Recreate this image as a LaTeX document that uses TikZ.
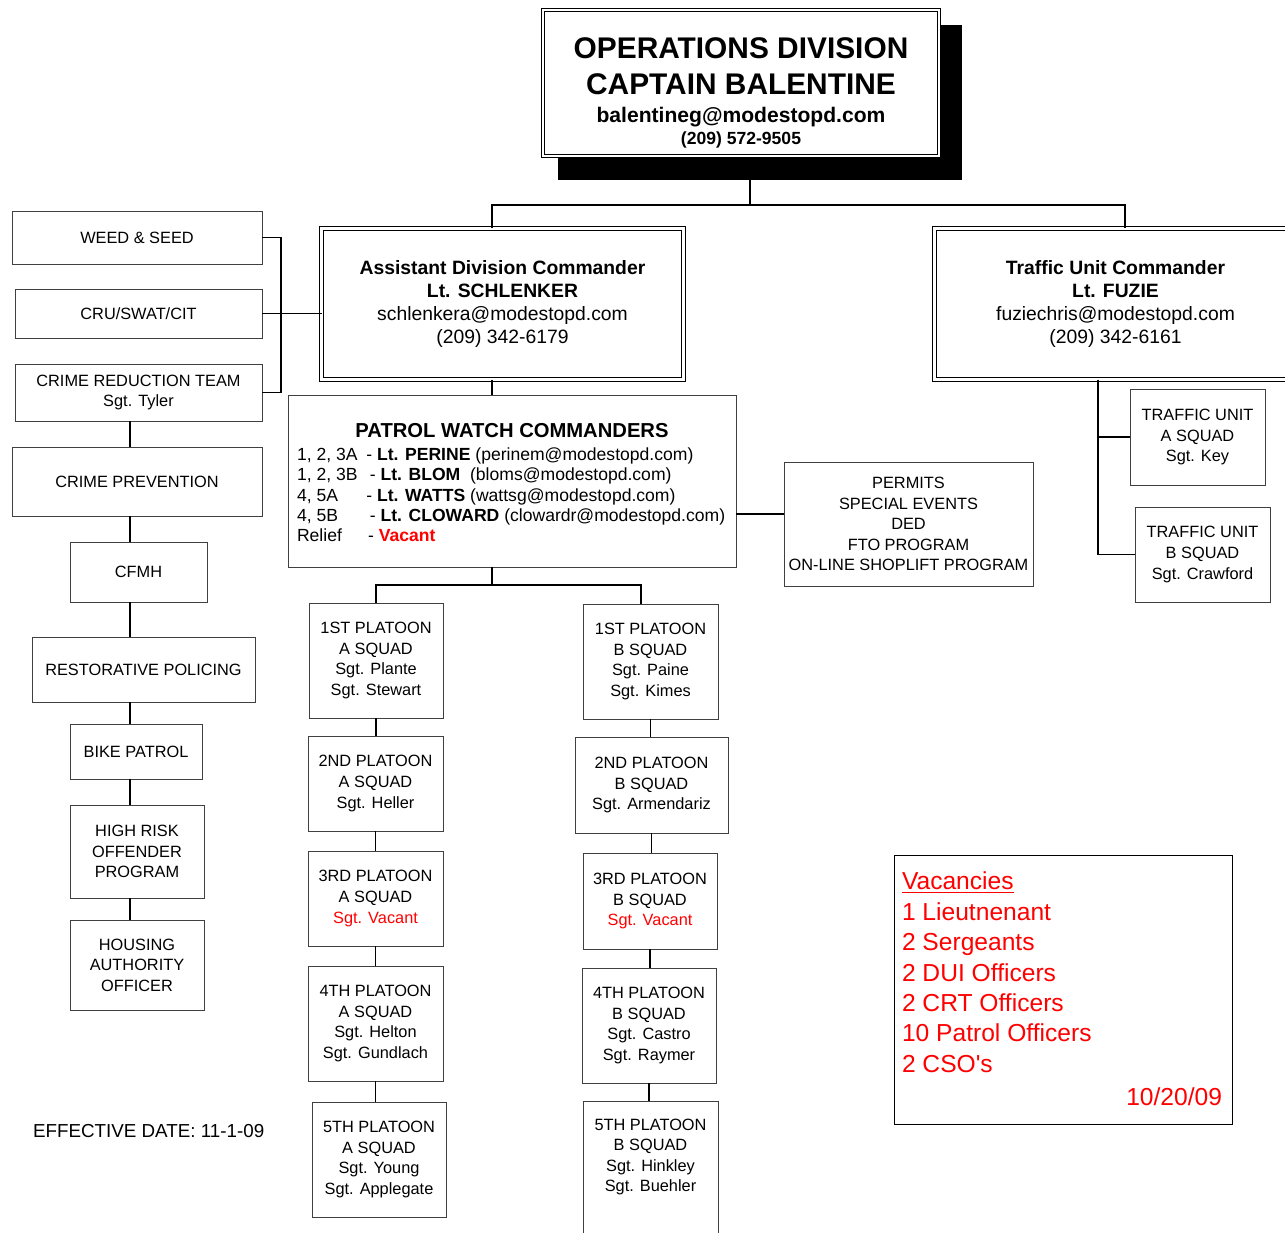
\documentclass[tikz,border=0pt]{standalone}
\usepackage{fontspec}
\setmainfont{Liberation Sans}
\usetikzlibrary{positioning}

\begin{document}
\begin{tikzpicture}[
    x=0.02cm, y=-0.02cm,
    box/.style={
        draw=black!75,
        line width=0.5pt,
        rectangle,
        inner sep=0pt,
        outer sep=0pt,
        align=center,
        font=\fontsize{9.3}{11.7}\selectfont
    },
    sz/.style 2 args={minimum width=#1*0.02cm, minimum height=#2*0.02cm},
    dblbox/.style={box, draw=black, double, double distance=1.4pt, line width=0.7pt, fill=white},
    cmdbox/.style={dblbox, font=\fontsize{11}{13.1}\selectfont},
    txt/.style={inner sep=0pt, outer sep=0pt, align=center},
    link/.style={line width=1pt, black}
]
\useasboundingbox[fill=white] (0,0) rectangle (1285,1233);

% Division head
\node[fill=black, inner sep=0pt, sz={404}{155}] (hdrshadow) at (760,102.5) {};
\node[dblbox, sz={396}{146}] (hdr) at (741,83) {};
\node[txt, font=\bfseries\fontsize{17}{20.4}\selectfont] (hdrtxt) at (741,93)
    {OPERATIONS DIVISION\\CAPTAIN BALENTINE\\[-4.6pt]
     {\fontsize{12}{14}\selectfont balentineg@modestopd.com}\\[-7.5pt]
     {\fontsize{10}{12}\selectfont (209) 572-9505}};

% Commanders
\node[cmdbox, sz={362}{151}] (asst) at (502.5,304)
    {\textbf{Assistant Division Commander}\\\textbf{Lt. SCHLENKER}\\schlenkera@modestopd.com\\(209) 342-6179};
\node[cmdbox, sz={362}{151}] (traffic) at (1115.5,304)
    {\textbf{Traffic Unit Commander}\\\textbf{Lt. FUZIE}\\fuziechris@modestopd.com\\(209) 342-6161};

% Left column
\node[box, sz={250}{53}] (weed) at (137,237.5) {WEED \& SEED};
\node[box, sz={247}{49}] (cru) at (138.5,313.5) {CRU/SWAT/CIT};
\node[box, sz={247}{57}] (crt) at (138.5,392.5) {CRIME REDUCTION TEAM\\Sgt. Tyler};
\node[box, sz={250}{69}] (cprev) at (137,481.5) {CRIME PREVENTION};
\node[box, sz={137}{60}] (cfmh) at (138.5,572) {CFMH};
\node[box, sz={223}{65}] (rest) at (143.5,669.5) {RESTORATIVE POLICING};
\node[box, sz={132}{55}] (bike) at (136,751.5) {BIKE PATROL};
\node[box, sz={134}{93}] (hrisk) at (137,851.5) {HIGH RISK\\OFFENDER\\PROGRAM};
\node[box, sz={134}{90}] (housing) at (137,965) {HOUSING\\AUTHORITY\\OFFICER};

% Patrol watch commanders
\node[box, sz={448}{172}] (pwc) at (512,481) {};
\node[txt, font=\bfseries\fontsize{11.5}{13}\selectfont] (pwctitle) at (512,431) {PATROL WATCH COMMANDERS};
\node[txt, align=left, anchor=north west, font=\fontsize{10}{11.5}\selectfont] (pwclines) at (297,448)
    {\makebox[39.5pt][l]{1, 2, 3A}- \textbf{Lt. PERINE} (perinem@modestopd.com)\\
     \makebox[41.5pt][l]{1, 2, 3B}- \textbf{Lt. BLOM} \ (bloms@modestopd.com)\\
     \makebox[39.5pt][l]{4, 5A}- \textbf{Lt. WATTS} (wattsg@modestopd.com)\\
     \makebox[41.5pt][l]{4, 5B}- \textbf{Lt. CLOWARD} (clowardr@modestopd.com)\\
     \makebox[40.5pt][l]{Relief}- \textcolor{red}{\textbf{Vacant}}};
\node[box, sz={249}{124}] (permits) at (908.5,524)
    {PERMITS\\SPECIAL EVENTS\\DED\\FTO PROGRAM\\ON-LINE SHOPLIFT PROGRAM};

% Traffic squads
\node[box, sz={135}{96}] (tua) at (1197.5,437) {TRAFFIC UNIT\\A SQUAD\\Sgt. Key};
\node[box, sz={135}{95}] (tub) at (1202.5,554.5) {TRAFFIC UNIT\\B SQUAD\\Sgt. Crawford};

% A squads
\node[box, sz={134}{115}] (p1a) at (376,660.5) {1ST PLATOON\\A SQUAD\\Sgt. Plante\\Sgt. Stewart};
\node[box, sz={135}{95}] (p2a) at (375.5,783.5) {2ND PLATOON\\A SQUAD\\Sgt. Heller};
\node[box, sz={135}{95}] (p3a) at (375.5,898.5) {3RD PLATOON\\A SQUAD\\\textcolor{red}{Sgt. Vacant}};
\node[box, sz={135}{115}] (p4a) at (375.5,1023.5) {4TH PLATOON\\A SQUAD\\Sgt. Helton\\Sgt. Gundlach};
\node[box, sz={134}{115}] (p5a) at (379,1159.5) {5TH PLATOON\\A SQUAD\\Sgt. Young\\Sgt. Applegate};

% B squads
\node[box, sz={135}{115}] (p1b) at (650.5,661.5) {1ST PLATOON\\B SQUAD\\Sgt. Paine\\Sgt. Kimes};
\node[box, sz={153}{96}] (p2b) at (651.5,785) {2ND PLATOON\\B SQUAD\\Sgt. Armendariz};
\node[box, sz={134}{96}] (p3b) at (650,901) {3RD PLATOON\\B SQUAD\\\textcolor{red}{Sgt. Vacant}};
\node[box, sz={134}{115}] (p4b) at (649,1025.5) {4TH PLATOON\\B SQUAD\\Sgt. Castro\\Sgt. Raymer};
\node[box, sz={135}{159}] (p5b) at (650.5,1180.5) {};
\node[txt, font=\fontsize{9.3}{11.7}\selectfont] (p5btxt) at (650.5,1157) {5TH PLATOON\\B SQUAD\\Sgt. Hinkley\\Sgt. Buehler};

% Vacancies and date
\node[box, draw=black, sz={338}{269}] (vac) at (1063,989.5) {};
\node[txt, align=left, anchor=north west, text=red, font=\fontsize{14}{17.3}\selectfont] (vactxt) at (902,872)
    {\underline{Vacancies}\\1 Lieutnenant\\2 Sergeants\\2 DUI Officers\\2 CRT Officers\\10 Patrol Officers\\2 CSO\textquotesingle s};
\node[txt, anchor=base east, text=red, font=\fontsize{14}{17}\selectfont] (vacdate) at (1222,1105) {10/20/09};
\node[txt, anchor=west, font=\fontsize{10.7}{13}\selectfont] (effdate) at (33,1131) {EFFECTIVE DATE: 11-1-09};

% Connectors
\coordinate (jC) at (750,205);
\coordinate (jA) at (492,205);
\coordinate (jT) at (1125,205);
\draw[link] (jC |- hdrshadow.south) -- (jC);
\draw[link] (jA |- asst.north) -- (jA) -- (jT) -- (jT |- traffic.north);

\coordinate (jL) at (281,0);
\draw[link] (weed.east) -- (weed.east -| jL) -- (crt.east -| jL) -- (crt.east);
\draw[link] (cru.east) -- (cru.east -| asst.west);

\coordinate (jLc) at (130,0);
\foreach \u/\l in {crt/cprev, cprev/cfmh, cfmh/rest, rest/bike, bike/hrisk, hrisk/housing}
    \draw[link] (\u.south -| jLc) -- (\l.north -| jLc);

\coordinate (jP) at (492,585);
\coordinate (jB) at (641,585);
\draw[link] (asst.south -| jP) -- (pwc.north -| jP);
\draw[link] (pwc.south -| jP) -- (jP);
\draw[link] (p1a.north) |- (jB) -- (jB |- p1b.north);
\foreach \u/\l in {p1a/p2a, p2a/p3a, p3a/p4a, p4a/p5a, p1b/p2b, p2b/p3b, p3b/p4b, p4b/p5b}
    \draw[link] (\u.south) -- (\u.south |- \l.north);

\coordinate (jR) at (760,514);
\draw[link] (jR -| pwc.east) -- (jR -| permits.west);

\coordinate (jU) at (1098,0);
\draw[link] (traffic.south -| jU) -- (tub.west -| jU) -- (tub.west);
\draw[link] (tua.west -| jU) -- (tua.west);

\end{tikzpicture}
\end{document}
